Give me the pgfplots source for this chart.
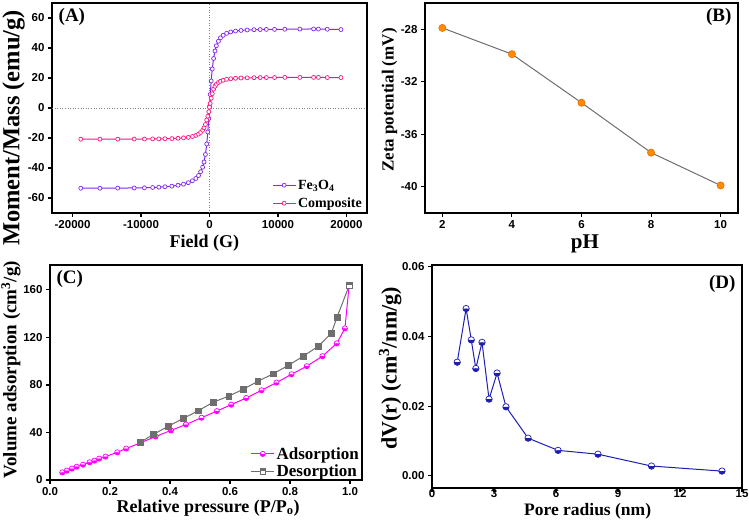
\documentclass[border=0pt]{standalone}
\usepackage{pgfplots}
\pgfplotsset{compat=1.18}
\usetikzlibrary{plotmarks}
\usepackage{fontspec}
\setmainfont{Liberation Serif}
\setsansfont{Liberation Sans}
\definecolor{fepurple}{RGB}{130,40,240}
\definecolor{comppink}{RGB}{255,20,130}
\definecolor{adsmag}{RGB}{255,0,255}
\definecolor{desgray}{RGB}{110,110,110}
\definecolor{dblue}{RGB}{30,30,180}
\definecolor{orng}{RGB}{255,140,0}
\definecolor{orngd}{RGB}{235,110,0}
\pgfdeclareplotmark{hsq}{%
  \pgfpathrectangle{\pgfqpoint{-\pgfplotmarksize}{-\pgfplotmarksize}}{\pgfqpoint{2\pgfplotmarksize}{2\pgfplotmarksize}}%
  \pgfusepathqfillstroke
  \pgfpathrectangle{\pgfqpoint{-\pgfplotmarksize}{0pt}}{\pgfqpoint{2\pgfplotmarksize}{\pgfplotmarksize}}%
  \pgfsetfillcolor{desgray}%
  \pgfusepathqfill
}
\pgfplotsset{
  panel/.style={
    scale only axis, anchor=south west,
    axis line style={line width=1.4pt},
    tick align=outside, xtick pos=left, ytick pos=left,
    major tick length=4pt,
    every tick/.append style={line width=1.1pt, black},
    tick label style={font=\sffamily\bfseries\fontsize{11.5}{11.5}\selectfont},
    /pgf/number format/assume math mode=true,
    /pgf/number format/1000 sep={},
    xlabel style={font=\bfseries\fontsize{18}{18}\selectfont, anchor=center},
    ylabel style={font=\bfseries\fontsize{19}{19}\selectfont, anchor=center},
    legend image code/.code={\draw[mark repeat=2,mark phase=2] plot coordinates {(0cm,0cm) (0.4cm,0cm) (0.8cm,0cm)};},
  }
}
\newcommand{\plab}[1]{\bfseries\fontsize{19}{19}\selectfont #1}
\begin{document}
\begin{tikzpicture}
\path[use as bounding box] (0pt,0pt) rectangle (749pt,521pt);
% ---------------- (A)
\begin{axis}[panel, at={(52pt,308pt)}, width=315pt, height=210pt,
  xmin=-23000, xmax=23000, ymin=-70, ymax=70,
  xtick={-20000,-10000,0,10000,20000}, ytick={-60,-40,...,60},
  scaled x ticks=false,
  xlabel={Field (G)}, ylabel={Moment/Mass (emu/g)},
  xlabel style={at={(axis description cs:0.484,-0.143)}},
  ylabel style={font=\bfseries\fontsize{24.5}{24.5}\selectfont, at={(axis description cs:-0.122,0.405)}},
  legend style={draw=none, fill=none, at={(1.0,0.0)}, anchor=south east,
    font=\bfseries\fontsize{14}{14}\selectfont, row sep=3pt},
  legend cell align=left]
\addplot[forget plot, gray, dotted, line width=0.6pt] coordinates {(0,-70) (0,70)};
\addplot[forget plot, gray, dotted, line width=0.6pt] coordinates {(-23000,0) (23000,0)};
\addplot[fepurple, line width=1pt, mark=*, mark size=2pt, mark options={fill=white, line width=0.7pt}] coordinates {
(-18800,-53.5) (-16000,-53.5) (-13400,-53.4) (-11000,-53.3) (-9500,-53.2) (-8300,-53.0)
(-7400,-52.8) (-6500,-52.5) (-5500,-52.1) (-4600,-51.5) (-3800,-50.8) (-3100,-49.8)
(-2500,-48.5) (-2000,-47.0) (-1600,-45.0) (-1300,-42.5) (-1000,-39.5) (-800,-36)
(-600,-31) (-400,-24) (-250,-16) (-100,-7) (0,1) (100,9) (250,18) (400,26) (600,33)
(800,38) (1000,41.5) (1300,44.5) (1600,46.8) (2000,48.5) (2500,49.8) (3100,50.7)
(3800,51.3) (4600,51.7) (5500,52.0) (6500,52.2) (7400,52.3) (8300,52.4) (9500,52.4)
(11000,52.5) (13200,52.6) (15200,52.7) (15900,52.6) (17200,52.5) (19200,52.3)};
\addlegendentry{Fe\textsubscript{3}O\textsubscript{4}}
\addplot[comppink, line width=1pt, mark=*, mark size=2pt, mark options={fill=white, line width=0.7pt}] coordinates {
(-18800,-20.8) (-16000,-20.8) (-13400,-20.8) (-11000,-20.7) (-9500,-20.7) (-8300,-20.6)
(-7400,-20.6) (-6500,-20.5) (-5500,-20.4) (-4600,-20.2) (-3800,-19.9) (-3100,-19.6)
(-2500,-19.0) (-2000,-18.3) (-1600,-17.4) (-1300,-16.3) (-1000,-14.8) (-800,-13.2)
(-600,-11) (-400,-8) (-250,-5.5) (-100,-2.5) (0,0.5) (100,3) (250,6.5) (400,9.5)
(600,12.5) (800,14.5) (1000,15.8) (1300,17) (1600,17.8) (2000,18.5) (2500,19.1)
(3100,19.5) (3800,19.8) (4600,20.0) (5500,20.1) (6500,20.2) (7400,20.3) (8300,20.3)
(9500,20.3) (11000,20.4) (13200,20.4) (15200,20.4) (15900,20.4) (17200,20.3) (19200,20.3)};
\addlegendentry{Composite}
\node[anchor=north west, font=\plab{}] at (rel axis cs:0.01,0.99) {(A)};
\end{axis}
% ---------------- (B)
\begin{axis}[panel, at={(425pt,308pt)}, width=313pt, height=210pt,
  xmin=1.5, xmax=10.5, ymin=-42, ymax=-26,
  xtick={2,4,6,8,10}, ytick={-40,-36,-32,-28},
  xlabel={pH}, ylabel={Zeta potential (mV)},
  xlabel style={font=\bfseries\fontsize{21}{21}\selectfont, at={(axis description cs:0.511,-0.148)}},
  ylabel style={font=\bfseries\fontsize{17}{17}\selectfont, at={(axis description cs:-0.113,0.538)}}]
\addplot[desgray, line width=1pt, mark=*, mark size=3.6pt, mark options={fill=orng, draw=orngd, line width=0.6pt}] coordinates {
(2,-27.9) (4,-29.9) (6,-33.6) (8,-37.4) (10,-39.9)};
\node[anchor=north east, font=\plab{}] at (rel axis cs:0.99,0.99) {(B)};
\end{axis}
% ---------------- (C)
\begin{axis}[panel, at={(50pt,41pt)}, width=312pt, height=215pt,
  xmin=0, xmax=1.04, ymin=0, ymax=181,
  xtick={0,0.2,...,1.0}, ytick={0,40,...,160},
  xticklabel style={/pgf/number format/.cd, fixed, fixed zerofill, precision=1},
  xlabel={Relative pressure (P/P\textsubscript{o})}, ylabel={Volume adsorption (cm\textsuperscript{3}/g)},
  xlabel style={at={(axis description cs:0.507,-0.130)}},
  ylabel style={at={(axis description cs:-0.125,0.512)}},
  legend style={draw=none, fill=none, at={(1.0,-0.005)}, anchor=south east, inner sep=1pt,
    font=\bfseries\fontsize{17}{17}\selectfont, row sep=0pt},
  legend cell align=left]
\addplot[adsmag, line width=1pt, mark=halfcircle*, mark size=2.6pt, mark options={fill=white, mark color=adsmag, line width=0.7pt}] coordinates {
(0.041,6.4) (0.056,7.9) (0.073,9.6) (0.089,11.2) (0.110,12.9) (0.132,14.9) (0.148,16.3)
(0.164,18.0) (0.185,19.7) (0.224,23.3) (0.254,26.5) (0.302,31.3) (0.352,36.6) (0.403,41.7)
(0.453,46.7) (0.505,52.4) (0.556,58.0) (0.604,63.4) (0.654,69.0) (0.705,75.5) (0.755,82.0)
(0.805,89.0) (0.856,95.8) (0.908,104.2) (0.956,115.0) (0.983,127.6) (0.997,163.5)};
\addlegendentry{Adsorption}
\addplot[desgray, line width=1pt, mark=hsq, mark size=2.8pt, mark options={fill=white, line width=0.5pt}] coordinates {
(0.998,164.2) (0.957,137.2) (0.938,123.7) (0.895,112.7) (0.844,104.2) (0.794,96.4)
(0.744,89.4) (0.693,83.1) (0.645,76.5) (0.596,70.6) (0.545,65.6) (0.495,58.4)
(0.444,51.8) (0.394,45.2) (0.344,38.3) (0.300,31.6)};
\addlegendentry{Desorption}
\node[anchor=north west, font=\plab{}] at (rel axis cs:0.01,0.99) {(C)};
\end{axis}
% ---------------- (D)
\begin{axis}[panel, at={(432pt,33pt)}, width=310pt, height=223pt,
  xmin=0, xmax=15, ymin=-0.0035, ymax=0.0605,
  xtick={0,3,...,15}, ytick={0,0.02,0.04,0.06},
  scaled y ticks=false,
  xticklabel style={yshift=4pt, inner ysep=1pt},
  yticklabel style={/pgf/number format/.cd, fixed, fixed zerofill, precision=2},
  xlabel={Pore radius (nm)}, ylabel={dV(r) (cm\textsuperscript{3}/nm/g)},
  xlabel style={font=\bfseries\fontsize{17.5}{17.5}\selectfont, inner ysep=1pt, at={(axis description cs:0.502,-0.106)}},
  ylabel style={font=\bfseries\fontsize{22}{22}\selectfont, at={(axis description cs:-0.135,0.536)}}]
\addplot[dblue, line width=1pt, mark=halfcircle*, mark size=3.2pt, mark options={fill=white, mark color=dblue, line width=0.7pt}] coordinates {
(1.22,0.0326) (1.65,0.0480) (1.90,0.0390) (2.12,0.0308) (2.42,0.0383) (2.76,0.0220)
(3.15,0.0295) (3.58,0.0198) (4.65,0.0108) (6.10,0.0073) (8.03,0.0062) (10.62,0.0028) (14.03,0.00135)};
\node[anchor=north east, font=\plab{}] at (rel axis cs:0.99,0.97) {(D)};
\end{axis}
\end{tikzpicture}
\end{document}
